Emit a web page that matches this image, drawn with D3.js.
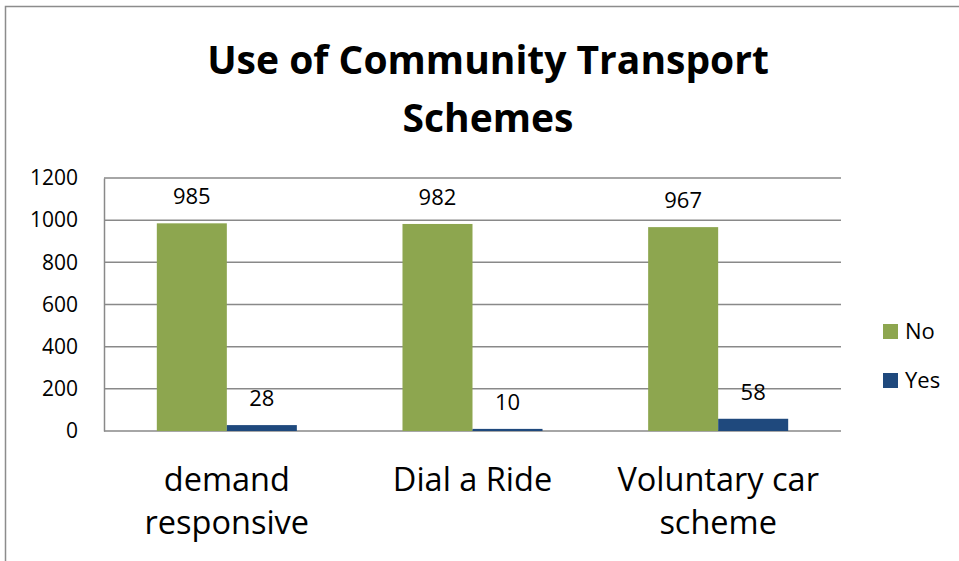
<!DOCTYPE html>
<html>
<head>
<meta charset="utf-8">
<script src="https://cdn.jsdelivr.net/npm/d3@7"></script>
<style>
  body { margin: 0; background: #fff; }
  text { font-family: "Open Sans", "Noto Sans", sans-serif; fill: #000; }
</style>
</head>
<body>
<div id="chart-area"></div>
<script>
// chart data
let categories = ["demand responsive", "Dial a Ride", "Voluntary car scheme"];
let seriesNames = ["No", "Yes"];
let noValues = [985, 982, 967];
let yesValues = [28, 10, 58];
let yTicks = [0, 200, 400, 600, 800, 1000, 1200];
let colors = { No: "#8da64f", Yes: "#1f497d" };

let W = 959, H = 561;
let margin = { left: 104, right: 118, top: 178, bottom: 130 };
let width = W - margin.left - margin.right,
    height = H - margin.top - margin.bottom;

let svg = d3.select("#chart-area")
    .append("svg")
    .attr("width", W)
    .attr("height", H);

// outer frame (top + left only, the picture is cropped)
svg.append("path")
    .attr("d", "M5.5," + H + " V6.5 H" + W)
    .attr("fill", "none")
    .attr("stroke", "#8c8c8c")
    .attr("stroke-width", 1.5);

// Title
let title = svg.append("text")
    .attr("text-anchor", "middle")
    .attr("font-size", "39px")
    .attr("font-weight", "bold");
title.append("tspan").attr("x", 488).attr("y", 74).text("Use of Community Transport");
title.append("tspan").attr("x", 488).attr("y", 132).text("Schemes");

let g = svg.append("g")
    .attr("transform", "translate(" + margin.left + "," + margin.top + ")");

// X Scale
let x0 = d3.scaleBand()
    .domain(categories)
    .range([0, width])
    .padding(0);

let x1 = d3.scaleBand()
    .domain(seriesNames)
    .range([x0.bandwidth() * 0.215, x0.bandwidth() * 0.785])
    .padding(0);

// Y Scale
let y = d3.scaleLinear()
    .domain([0, 1200])
    .range([height, 0]);

// gridlines
g.append("g")
    .attr("class", "grid")
    .selectAll("line")
    .data(yTicks)
    .enter()
    .append("line")
        .attr("x1", 0)
        .attr("x2", width)
        .attr("y1", function(d){ return y(d); })
        .attr("y2", function(d){ return y(d); })
        .attr("stroke", "#898989")
        .attr("stroke-width", 1.5);

// Y Axis
let yAxisCall = d3.axisLeft(y)
    .tickValues(yTicks)
    .tickFormat(d3.format("d"))
    .tickSize(0)
    .tickPadding(26);
let yAxis = g.append("g")
    .attr("class", "y axis")
    .call(yAxisCall);
yAxis.select(".domain")
    .attr("stroke", "#898989")
    .attr("stroke-width", 1.5);
yAxis.selectAll("text")
    .attr("font-size", "21px")
    .attr("fill", "#000");

// Bars
let data = categories.map(function(c, i){
    return { cat: c, values: [ { s: "No", v: noValues[i] }, { s: "Yes", v: yesValues[i] } ] };
});

let groups = g.append("g").selectAll("g")
    .data(data)
    .enter()
    .append("g")
        .attr("transform", function(d){ return "translate(" + x0(d.cat) + ",0)"; });

groups.selectAll("rect")
    .data(function(d){ return d.values; })
    .enter()
    .append("rect")
        .attr("x", function(d){ return x1(d.s); })
        .attr("y", function(d){ return y(d.v); })
        .attr("width", x1.bandwidth())
        .attr("height", function(d){ return height - y(d.v); })
        .attr("fill", function(d){ return colors[d.s]; });

// value labels
groups.selectAll(".val")
    .data(function(d){ return d.values; })
    .enter()
    .append("text")
        .attr("class", "val")
        .attr("x", function(d){ return x1(d.s) + x1.bandwidth() / 2; })
        .attr("y", function(d){ return y(d.v) - 19; })
        .attr("text-anchor", "middle")
        .attr("font-size", "22px")
        .text(function(d){ return d.v; });

// X labels (wrapped)
let xLabels = g.append("g").selectAll("text")
    .data(categories)
    .enter()
    .append("text")
        .attr("text-anchor", "middle")
        .attr("font-size", "32.5px")
        .attr("y", height + 60)
        .attr("x", function(d){ return x0(d) + x0.bandwidth() / 2; });

xLabels.each(function(d){
    let t = d3.select(this);
    let words = d.split(" ");
    let lines = [];
    let line = [];
    let probe = t.append("tspan");
    words.forEach(function(w){
        line.push(w);
        probe.text(line.join(" "));
        if (probe.node().getComputedTextLength() > x0.bandwidth() * 0.9 && line.length > 1) {
            line.pop();
            lines.push(line.join(" "));
            line = [w];
        }
    });
    lines.push(line.join(" "));
    probe.remove();
    lines.forEach(function(l, i){
        t.append("tspan")
            .attr("x", t.attr("x"))
            .attr("dy", i === 0 ? 0 : 43)
            .text(l);
    });
});

// Legend
let legend = svg.append("g")
    .attr("class", "legend");

let legendItems = legend.selectAll("g")
    .data(seriesNames)
    .enter()
    .append("g")
        .attr("transform", function(d, i){ return "translate(883," + (324 + i * 49) + ")"; });

legendItems.append("rect")
    .attr("width", 15)
    .attr("height", 15)
    .attr("fill", function(d){ return colors[d]; });

legendItems.append("text")
    .attr("x", 22)
    .attr("y", 15)
    .attr("font-size", "22px")
    .text(function(d){ return d; });
</script>
</body>
</html>
